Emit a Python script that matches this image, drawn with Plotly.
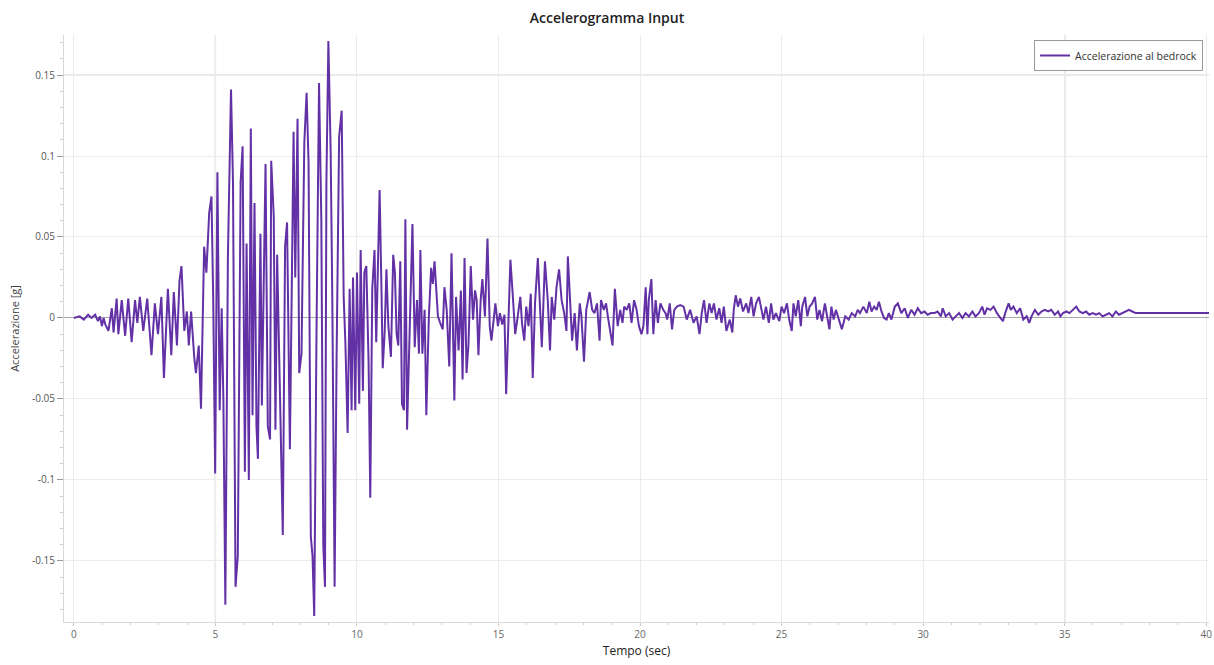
import plotly.graph_objects as go

# Input accelerogram at bedrock: time (s) and acceleration (g)
time_s = [
    0.00, 0.20, 0.35, 0.50, 0.62, 0.75, 0.85, 0.92, 0.99, 1.05,
    1.11, 1.22, 1.34, 1.40, 1.51, 1.57, 1.69, 1.81, 1.92, 2.04,
    2.16, 2.24, 2.33, 2.45, 2.59, 2.74, 2.86, 2.97, 3.09, 3.18,
    3.32, 3.44, 3.53, 3.64, 3.73, 3.80, 3.90, 3.99, 4.06, 4.14,
    4.25, 4.31, 4.41, 4.49, 4.60, 4.68, 4.78, 4.86, 4.92, 4.99,
    5.07, 5.15, 5.22, 5.28, 5.35, 5.44, 5.55, 5.62, 5.71, 5.79,
    5.89, 5.96, 6.04, 6.10, 6.18, 6.25, 6.31, 6.38, 6.45, 6.50,
    6.59, 6.64, 6.77, 6.85, 6.93, 6.97, 7.06, 7.12, 7.18, 7.26,
    7.31, 7.38, 7.46, 7.53, 7.63, 7.69, 7.76, 7.82, 7.90, 7.96,
    8.04, 8.14, 8.22, 8.29, 8.37, 8.43, 8.49, 8.57, 8.66, 8.74,
    8.81, 8.87, 8.92, 8.99, 9.07, 9.13, 9.21, 9.28, 9.37, 9.46,
    9.53, 9.59, 9.67, 9.74, 9.81, 9.86, 9.94, 10.00, 10.08, 10.13,
    10.21, 10.26, 10.33, 10.41, 10.47, 10.54, 10.62, 10.68, 10.73, 10.80,
    10.87, 10.91, 10.98, 11.04, 11.11, 11.20, 11.28, 11.34, 11.40, 11.46,
    11.53, 11.59, 11.66, 11.71, 11.77, 11.85, 11.96, 12.04, 12.12, 12.19,
    12.24, 12.31, 12.39, 12.45, 12.54, 12.62, 12.68, 12.74, 12.86, 12.94,
    13.03, 13.09, 13.17, 13.26, 13.34, 13.44, 13.50, 13.59, 13.67, 13.73,
    13.80, 13.87, 13.94, 14.02, 14.10, 14.17, 14.23, 14.29, 14.37, 14.43,
    14.52, 14.61, 14.69, 14.75, 14.84, 14.89, 14.98, 15.05, 15.13, 15.21,
    15.27, 15.36, 15.42, 15.50, 15.59, 15.68, 15.77, 15.83, 15.91, 15.98,
    16.06, 16.14, 16.21, 16.29, 16.39, 16.47, 16.53, 16.64, 16.74, 16.82,
    16.88, 16.97, 17.05, 17.14, 17.23, 17.32, 17.40, 17.45, 17.52, 17.60,
    17.69, 17.77, 17.87, 17.93, 18.02, 18.10, 18.22, 18.31, 18.39, 18.48,
    18.57, 18.62, 18.72, 18.80, 18.88, 18.97, 19.03, 19.11, 19.21, 19.30,
    19.38, 19.44, 19.53, 19.62, 19.70, 19.79, 19.88, 19.96, 20.05, 20.12,
    20.20, 20.26, 20.31, 20.40, 20.47, 20.55, 20.63, 20.72, 20.82, 20.90,
    20.96, 21.05, 21.13, 21.21, 21.30, 21.42, 21.54, 21.65, 21.77, 21.89,
    22.00, 22.10, 22.18, 22.26, 22.35, 22.45, 22.53, 22.61, 22.70, 22.80,
    22.88, 22.96, 23.05, 23.17, 23.26, 23.31, 23.38, 23.46, 23.54, 23.64,
    23.75, 23.83, 23.93, 24.01, 24.10, 24.20, 24.28, 24.36, 24.45, 24.55,
    24.63, 24.71, 24.80, 24.92, 25.00, 25.09, 25.19, 25.27, 25.36, 25.42,
    25.50, 25.59, 25.68, 25.73, 25.83, 25.91, 25.99, 26.08, 26.18, 26.26,
    26.34, 26.43, 26.53, 26.61, 26.69, 26.76, 26.84, 26.92, 27.02, 27.13,
    27.25, 27.37, 27.48, 27.60, 27.69, 27.77, 27.89, 28.01, 28.10, 28.18,
    28.27, 28.36, 28.44, 28.53, 28.62, 28.71, 28.79, 28.88, 29.00, 29.11,
    29.23, 29.35, 29.46, 29.58, 29.70, 29.81, 29.93, 30.05, 30.16, 30.28,
    30.40, 30.51, 30.63, 30.69, 30.80, 30.92, 31.04, 31.15, 31.27, 31.39,
    31.50, 31.62, 31.74, 31.85, 31.97, 32.09, 32.17, 32.26, 32.38, 32.49,
    32.61, 32.73, 32.82, 32.90, 33.02, 33.10, 33.19, 33.31, 33.43, 33.54,
    33.66, 33.75, 33.83, 33.95, 34.07, 34.18, 34.30, 34.42, 34.53, 34.65,
    34.77, 34.85, 34.94, 35.06, 35.17, 35.29, 35.41, 35.52, 35.64, 35.76,
    35.87, 35.99, 36.11, 36.22, 36.34, 36.46, 36.57, 36.69, 36.81, 36.92,
    37.04, 37.16, 37.27, 37.39, 37.51, 38.50, 39.50, 40.10,
]

accel_g = [
    0.000, 0.001, -0.001, 0.002, 0.000, 0.002, -0.002, 0.001, -0.005, 0.000,
    -0.004, -0.008, 0.006, -0.009, 0.012, -0.010, 0.011, -0.011, 0.012, -0.015,
    0.011, -0.003, 0.013, -0.008, 0.012, -0.023, 0.009, -0.010, 0.013, -0.037,
    0.018, -0.023, 0.016, -0.017, 0.023, 0.032, -0.008, 0.004, -0.017, 0.004,
    -0.024, -0.034, -0.017, -0.056, 0.044, 0.028, 0.065, 0.075, 0.013, -0.096,
    0.090, -0.057, 0.006, -0.050, -0.177, 0.037, 0.141, 0.084, -0.166, -0.147,
    0.084, 0.106, -0.095, 0.046, -0.100, 0.117, -0.060, 0.071, -0.067, -0.087,
    0.052, -0.054, 0.095, -0.067, -0.075, 0.097, 0.063, -0.069, 0.039, -0.029,
    -0.073, -0.134, 0.044, 0.059, -0.081, -0.005, 0.115, 0.025, 0.123, -0.034,
    -0.022, 0.108, 0.139, 0.096, -0.135, -0.147, -0.184, -0.010, 0.145, 0.061,
    -0.140, -0.166, 0.084, 0.171, 0.103, 0.009, -0.166, -0.024, 0.112, 0.128,
    0.013, -0.015, -0.071, 0.018, -0.057, 0.025, -0.057, 0.028, -0.053, 0.042,
    -0.045, 0.028, 0.032, -0.027, -0.111, 0.018, 0.042, -0.015, 0.028, 0.079,
    0.013, -0.031, -0.008, 0.030, -0.005, -0.024, 0.039, 0.028, -0.010, -0.017,
    0.035, -0.053, -0.057, 0.061, -0.069, -0.010, 0.058, -0.018, 0.011, -0.022,
    0.042, -0.022, 0.005, -0.060, 0.001, 0.031, 0.021, 0.035, 0.001, -0.003,
    -0.007, 0.019, 0.005, -0.030, 0.040, -0.051, 0.013, -0.020, 0.017, -0.038,
    0.037, -0.034, -0.016, 0.032, -0.001, 0.017, 0.011, -0.023, 0.011, 0.024,
    0.001, 0.049, -0.005, -0.014, 0.001, 0.009, -0.005, 0.003, -0.004, 0.002,
    -0.047, 0.007, 0.036, 0.015, -0.010, 0.001, 0.013, -0.003, -0.014, 0.007,
    -0.005, 0.015, -0.037, 0.009, 0.037, 0.005, -0.018, 0.035, 0.011, -0.020,
    0.013, -0.001, 0.019, 0.030, 0.011, 0.003, -0.008, 0.038, 0.009, -0.014,
    0.003, -0.020, 0.009, 0.001, -0.027, 0.005, 0.016, 0.005, 0.003, 0.009,
    -0.014, 0.011, 0.005, 0.009, -0.001, -0.012, -0.017, 0.018, -0.005, 0.005,
    -0.003, 0.007, 0.005, 0.009, -0.003, 0.011, 0.005, -0.005, -0.010, -0.005,
    0.019, -0.010, 0.011, 0.024, -0.010, 0.011, -0.003, 0.009, 0.005, 0.003,
    -0.001, 0.009, -0.007, 0.005, 0.007, 0.008, 0.007, -0.001, 0.005, -0.003,
    0.001, -0.010, 0.003, 0.011, -0.003, 0.009, 0.003, 0.009, -0.001, 0.006,
    -0.003, 0.007, -0.008, -0.001, -0.009, 0.005, 0.014, 0.007, 0.012, 0.004,
    0.009, 0.003, 0.013, 0.001, 0.009, 0.013, 0.005, -0.001, 0.007, -0.003,
    0.009, -0.001, 0.003, -0.002, 0.007, 0.003, 0.009, -0.001, -0.008, 0.009,
    0.001, 0.011, -0.005, 0.007, 0.013, 0.001, 0.007, 0.009, 0.013, -0.001,
    0.005, -0.002, 0.009, 0.001, -0.007, 0.007, -0.001, 0.005, -0.001, -0.007,
    0.001, -0.001, 0.003, 0.001, 0.005, 0.003, 0.007, 0.003, 0.010, 0.004,
    0.007, 0.005, 0.010, 0.004, 0.000, -0.001, 0.003, -0.001, 0.007, 0.009,
    0.003, 0.006, 0.000, 0.005, 0.002, 0.006, 0.003, 0.004, 0.002, 0.003,
    0.003, 0.004, 0.001, 0.006, 0.001, 0.003, -0.001, 0.001, 0.003, 0.000,
    0.003, 0.001, 0.004, 0.001, 0.003, 0.007, 0.002, 0.006, 0.005, 0.007,
    0.003, 0.000, -0.002, 0.003, 0.009, 0.005, 0.007, 0.003, 0.006, -0.001,
    0.001, -0.003, 0.001, 0.005, 0.002, 0.004, 0.005, 0.004, 0.005, 0.002,
    0.004, 0.001, 0.003, 0.004, 0.003, 0.005, 0.007, 0.004, 0.003, 0.004,
    0.002, 0.003, 0.002, 0.003, 0.001, 0.002, 0.003, 0.001, 0.004, 0.002,
    0.003, 0.004, 0.005, 0.004, 0.003, 0.003, 0.003, 0.003,
]

y_ticks = [-0.15, -0.1, -0.05, 0, 0.05, 0.1, 0.15]
y_tick_text = ["-0.15", "-0.1", "-0.05", "0", "0.05", "0.1", "0.15"]
x_ticks = [0, 5, 10, 15, 20, 25, 30, 35, 40]

font_family = "Open Sans, Noto Sans, sans-serif"

fig = go.Figure()
fig.add_trace(go.Scatter(
    x=time_s, y=accel_g, mode="lines",
    name="Accelerazione al bedrock",
    line=dict(color="#6331a6", width=2),
))

# darker reference lines across the plot at 5 s, 35 s and 0.15 g
for xv in (5, 35):
    fig.add_shape(type="line", xref="x", yref="paper", x0=xv, x1=xv, y0=0, y1=1,
                  line=dict(color="#a8a8a8", width=1.2), layer="below")
fig.add_shape(type="line", xref="paper", yref="y", x0=0, x1=1, y0=0.15, y1=0.15,
              line=dict(color="#d0d0d0", width=1.2), layer="below")

fig.update_layout(
    width=1214, height=665,
    margin=dict(l=64, r=2, t=35, b=43),
    paper_bgcolor="white", plot_bgcolor="white",
    font=dict(family=font_family, size=10, color="#555"),
    title=dict(text="Accelerogramma Input", x=0.5, xanchor="center",
               y=0.973, yanchor="middle",
               font=dict(family=font_family, size=14, color="#222", weight=600)),
    showlegend=True,
    legend=dict(x=0.9948, y=0.9915, xanchor="right", yanchor="top",
                bgcolor="white", bordercolor="#9a9a9a", borderwidth=1,
                font=dict(size=10.5, color="#333"), itemwidth=30),
    xaxis=dict(
        range=[-0.35, 40.1], tickvals=x_ticks,
        showgrid=True, gridcolor="#ececec", gridwidth=1,
        zeroline=False, showline=True, linecolor="#d8d8d8",
        ticks="outside", ticklen=3, tickcolor="#c8c8c8",
        ticklabeloverflow="allow",
        minor=dict(dtick=1, ticks="outside", ticklen=2, tickcolor="#d0d0d0", showgrid=False),
        tickfont=dict(size=10, color="#666"),
        title=dict(text="Tempo (sec)", standoff=6, font=dict(size=12, color="#222")),
    ),
    yaxis=dict(
        range=[-0.1877, 0.1747], tickvals=y_ticks, ticktext=y_tick_text,
        showgrid=True, gridcolor="#ececec", gridwidth=1,
        zeroline=True, zerolinecolor="#a8a8a8", zerolinewidth=1,
        showline=True, linecolor="#d8d8d8",
        ticks="outside", ticklen=6, tickcolor="#999",
        minor=dict(dtick=0.01, ticks="outside", ticklen=3, tickcolor="#cfcfcf", showgrid=False),
        tickfont=dict(size=10, color="#555"),
        title=dict(text="Accelerazione [g]", standoff=10, font=dict(size=11, color="#444")),
    ),
)

fig.write_html("out.html")
